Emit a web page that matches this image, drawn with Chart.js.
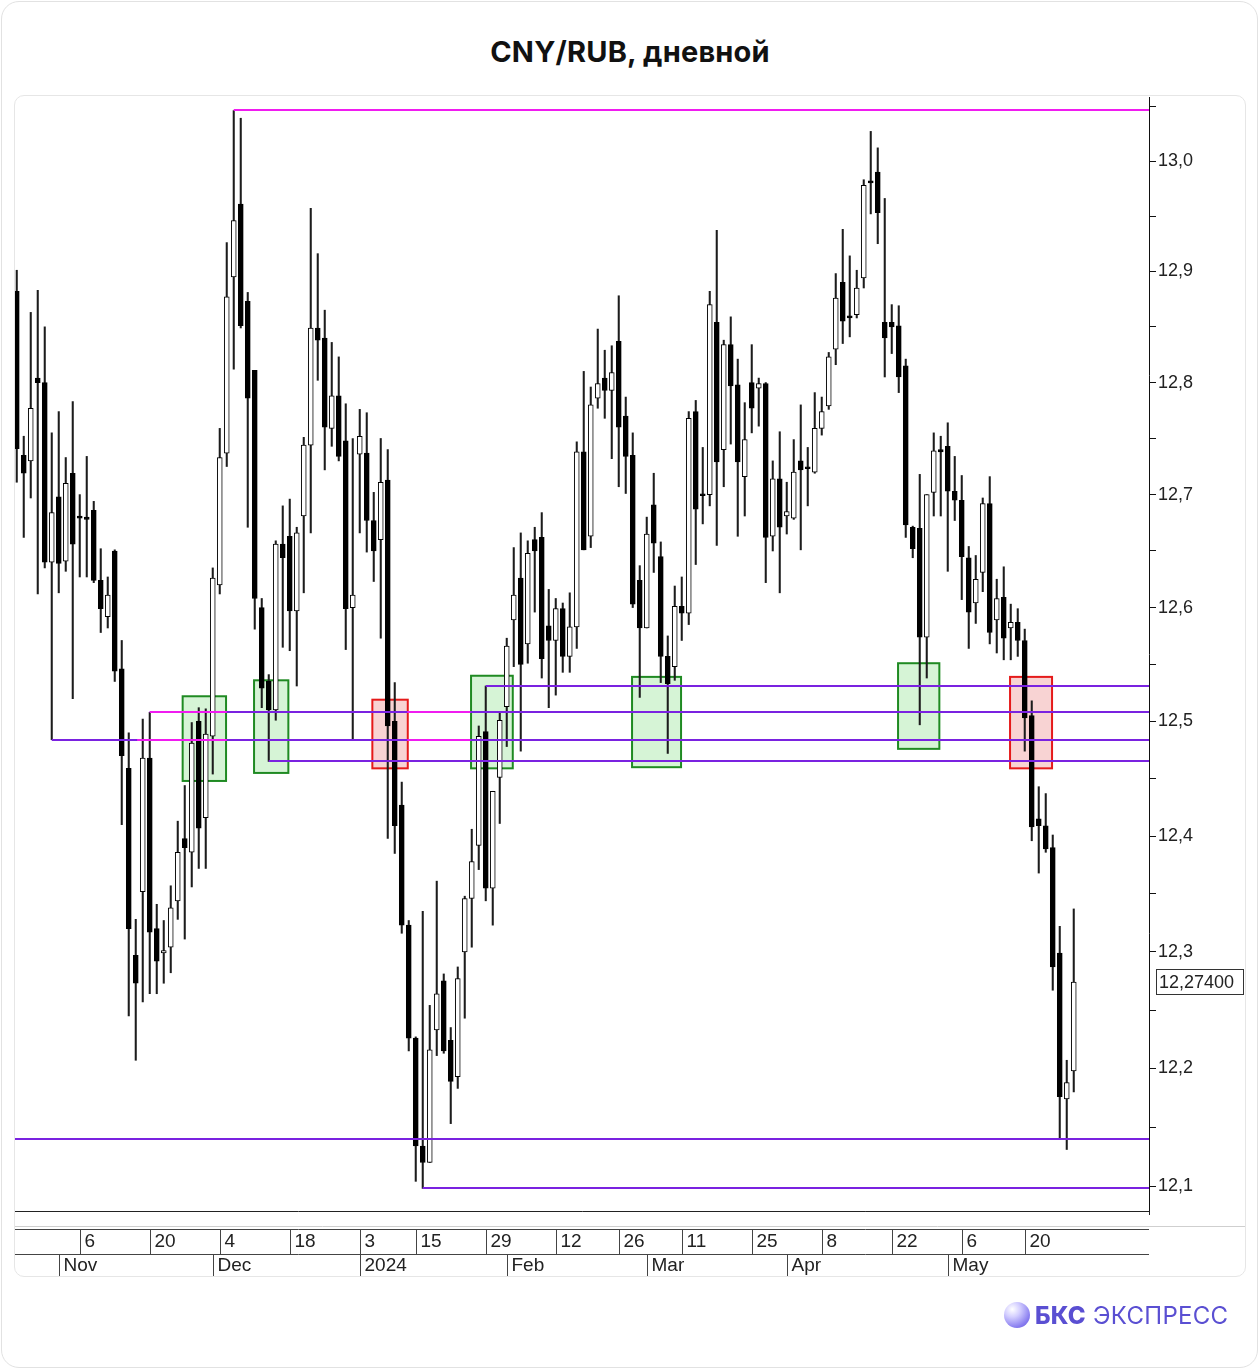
<!DOCTYPE html>
<html lang="ru">
<head>
<meta charset="utf-8">
<title>CNY/RUB, дневной</title>
<script src="https://cdn.jsdelivr.net/npm/chart.js@4.4.1/dist/chart.umd.min.js"></script>
<style>
  html, body { margin: 0; padding: 0; background: #fff; }
  body { width: 1260px; height: 1370px; position: relative; overflow: hidden; font-family: Inter, "Noto Sans", sans-serif; }
  .card { position: absolute; left: 1px; top: 1px; width: 1257px; height: 1367px; border: 1px solid #e2e2e2; border-radius: 18px; box-sizing: border-box; }
  .panel { position: absolute; left: 14px; top: 95px; width: 1232px; height: 1182px; border: 1px solid #e6e6e6; border-radius: 10px; box-sizing: border-box; }
  h1 { position: absolute; top: 32px; left: 0; width: 1260px; margin: 0; text-align: center; font-size: 29px; font-weight: 700; color: #111; line-height: 40px; letter-spacing: 0.2px; }
  .logo { position: absolute; left: 1004px; top: 1300px; height: 30px; display: flex; align-items: center; color: #5a4fd2; font-size: 24px; letter-spacing: 0.3px; }
  .logo .ball { width: 26px; height: 26px; border-radius: 50%; margin-right: 5px;
    background: radial-gradient(circle at 32% 28%, #ffffff 0%, #d4cfff 30%, #8a7ff0 70%, #5d50d8 100%); }
  .logo b { font-weight: 800; margin-right: 7px; }
  canvas { position: absolute; left: 0; top: 0; }
</style>
</head>
<body>
<div class="card"></div>
<div class="panel"></div>
<h1>CNY/RUB, дневной</h1>
<canvas id="chart" width="1260" height="1370"></canvas>
<div class="logo"><span class="ball"></span><b>БКС</b><span>ЭКСПРЕСС</span></div>

<script>
// daily candles, 24 Oct 2023 .. end of May 2024
const open = [
  12.882, 12.735, 12.730, 12.804, 12.800, 12.640, 12.698, 12.641, 12.719, 12.681,
  12.680, 12.686, 12.624, 12.592, 12.650, 12.546, 12.459, 12.297, 12.352, 12.468,
  12.320, 12.299, 12.304, 12.344, 12.398, 12.386, 12.500, 12.416, 12.487, 12.620,
  12.737, 12.895, 12.961, 12.873, 12.811, 12.600, 12.535, 12.510, 12.656, 12.663,
  12.597, 12.681, 12.744, 12.849, 12.840, 12.759, 12.788, 12.748, 12.600, 12.736,
  12.737, 12.677, 12.660, 12.713, 12.500, 12.427, 12.323, 12.226, 12.134, 12.120,
  12.233, 12.275, 12.224, 12.193, 12.300, 12.346, 12.392, 12.491, 12.355, 12.451,
  12.513, 12.589, 12.626, 12.568, 12.660, 12.662, 12.584, 12.571, 12.599, 12.557,
  12.583, 12.738, 12.663, 12.786, 12.804, 12.793, 12.837, 12.770, 12.735, 12.624,
  12.582, 12.691, 12.645, 12.557, 12.548, 12.601, 12.595, 12.774, 12.700, 12.700,
  12.854, 12.740, 12.834, 12.798, 12.716, 12.800, 12.795, 12.799, 12.663, 12.714,
  12.681, 12.679, 12.730, 12.724, 12.720, 12.759, 12.779, 12.830, 12.890, 12.860,
  12.861, 12.894, 12.982, 12.990, 12.854, 12.854, 12.851, 12.815, 12.671, 12.670,
  12.574, 12.702, 12.740, 12.743, 12.703, 12.695, 12.644, 12.604, 12.631, 12.692,
  12.589, 12.609, 12.582, 12.587, 12.571, 12.505, 12.415, 12.409, 12.390, 12.299,
  12.174, 12.198
];
const high = [
  12.901, 12.752, 12.863, 12.883, 12.850, 12.755, 12.774, 12.733, 12.783, 12.700,
  12.734, 12.694, 12.652, 12.627, 12.651, 12.571, 12.490, 12.328, 12.502, 12.508,
  12.341, 12.327, 12.357, 12.413, 12.444, 12.499, 12.512, 12.511, 12.635, 12.759,
  12.926, 13.046, 13.039, 12.881, 12.811, 12.608, 12.541, 12.659, 12.690, 12.696,
  12.671, 12.751, 12.957, 12.916, 12.865, 12.836, 12.823, 12.781, 12.750, 12.776,
  12.773, 12.702, 12.750, 12.740, 12.534, 12.447, 12.327, 12.227, 12.335, 12.254,
  12.361, 12.281, 12.235, 12.287, 12.348, 12.406, 12.496, 12.531, 12.439, 12.508,
  12.573, 12.653, 12.666, 12.659, 12.671, 12.684, 12.616, 12.608, 12.604, 12.613,
  12.747, 12.810, 12.796, 12.848, 12.829, 12.833, 12.878, 12.787, 12.755, 12.637,
  12.680, 12.719, 12.658, 12.575, 12.619, 12.627, 12.774, 12.784, 12.742, 12.882,
  12.937, 12.838, 12.859, 12.821, 12.782, 12.834, 12.804, 12.800, 12.730, 12.756,
  12.711, 12.749, 12.780, 12.742, 12.791, 12.787, 12.827, 12.898, 12.938, 12.914,
  12.901, 12.983, 13.027, 13.012, 12.966, 12.870, 12.869, 12.821, 12.672, 12.718,
  12.700, 12.755, 12.752, 12.764, 12.734, 12.717, 12.654, 12.646, 12.697, 12.716,
  12.625, 12.636, 12.603, 12.599, 12.581, 12.518, 12.443, 12.437, 12.401, 12.322,
  12.207, 12.337
];
const low = [
  12.711, 12.662, 12.697, 12.612, 12.635, 12.484, 12.613, 12.632, 12.520, 12.627,
  12.627, 12.622, 12.578, 12.582, 12.535, 12.410, 12.245, 12.207, 12.257, 12.264,
  12.264, 12.273, 12.282, 12.328, 12.311, 12.356, 12.372, 12.372, 12.454, 12.612,
  12.725, 12.812, 12.849, 12.671, 12.581, 12.512, 12.465, 12.501, 12.565, 12.562,
  12.531, 12.613, 12.666, 12.802, 12.722, 12.743, 12.730, 12.563, 12.484, 12.666,
  12.649, 12.623, 12.573, 12.398, 12.385, 12.316, 12.215, 12.104, 12.098, 12.120,
  12.211, 12.213, 12.153, 12.183, 12.243, 12.304, 12.371, 12.344, 12.323, 12.411,
  12.478, 12.548, 12.474, 12.551, 12.596, 12.538, 12.512, 12.523, 12.543, 12.543,
  12.564, 12.651, 12.653, 12.777, 12.768, 12.732, 12.707, 12.701, 12.600, 12.521,
  12.582, 12.631, 12.534, 12.472, 12.536, 12.571, 12.585, 12.638, 12.674, 12.690,
  12.655, 12.707, 12.745, 12.663, 12.681, 12.755, 12.761, 12.622, 12.650, 12.613,
  12.665, 12.678, 12.651, 12.690, 12.719, 12.753, 12.776, 12.816, 12.835, 12.841,
  12.858, 12.885, 12.952, 12.925, 12.805, 12.826, 12.791, 12.662, 12.644, 12.497,
  12.538, 12.681, 12.681, 12.632, 12.677, 12.607, 12.564, 12.586, 12.614, 12.568,
  12.560, 12.554, 12.554, 12.557, 12.474, 12.396, 12.368, 12.386, 12.267, 12.141,
  12.131, 12.180
];
const close = [
  12.741, 12.719, 12.777, 12.800, 12.640, 12.684, 12.639, 12.710, 12.656, 12.679,
  12.678, 12.624, 12.599, 12.611, 12.544, 12.470, 12.320, 12.273, 12.468, 12.317,
  12.292, 12.301, 12.338, 12.386, 12.390, 12.481, 12.407, 12.489, 12.626, 12.733,
  12.877, 12.946, 12.851, 12.786, 12.608, 12.529, 12.510, 12.656, 12.644, 12.597,
  12.666, 12.744, 12.849, 12.838, 12.760, 12.788, 12.734, 12.599, 12.611, 12.752,
  12.677, 12.650, 12.711, 12.496, 12.409, 12.323, 12.226, 12.134, 12.120, 12.216,
  12.264, 12.215, 12.189, 12.277, 12.346, 12.378, 12.487, 12.355, 12.439, 12.501,
  12.566, 12.611, 12.550, 12.648, 12.650, 12.555, 12.571, 12.599, 12.557, 12.583,
  12.738, 12.651, 12.780, 12.799, 12.793, 12.809, 12.760, 12.734, 12.603, 12.582,
  12.665, 12.657, 12.557, 12.533, 12.601, 12.595, 12.768, 12.687, 12.699, 12.870,
  12.729, 12.834, 12.797, 12.729, 12.749, 12.777, 12.799, 12.662, 12.714, 12.671,
  12.685, 12.720, 12.722, 12.723, 12.759, 12.774, 12.823, 12.876, 12.855, 12.858,
  12.885, 12.978, 12.980, 12.953, 12.840, 12.850, 12.805, 12.673, 12.652, 12.574,
  12.700, 12.739, 12.738, 12.703, 12.695, 12.645, 12.596, 12.625, 12.692, 12.578,
  12.608, 12.573, 12.587, 12.571, 12.503, 12.408, 12.409, 12.389, 12.287, 12.176,
  12.188, 12.274
];

// bottom axis: candle index where each label sits
const dayTicks = [[9, '6'], [19, '20'], [29, '4'], [39, '18'], [49, '3'], [57, '15'], [67, '29'],
  [77, '12'], [86, '26'], [95, '11'], [105, '25'], [115, '8'], [125, '22'], [135, '6'], [144, '20']];
const monthTicks = [[6, 'Nov'], [28, 'Dec'], [49, '2024'], [70, 'Feb'], [90, 'Mar'], [110, 'Apr'], [133, 'May']];
const priceTicks = [12.1, 12.15, 12.2, 12.25, 12.3, 12.35, 12.4, 12.45, 12.5, 12.55,
  12.6, 12.65, 12.7, 12.75, 12.8, 12.85, 12.9, 12.95, 13.0, 13.05];

// horizontal levels: price, first candle index, colour key
const levels = [[13.0465, 31, 'm'], [12.140, -0.25, 'p'], [12.098, 58, 'p'], [12.484, 5, 'p'],
  [12.508, 19, 'p'], [12.465, 36, 'p'], [12.531, 67, 'p']];
// pink pieces drawn on top of the levels: price, from index, to index
const accents = [[12.508, 19, 30], [12.484, 17.2, 30], [12.508, 55.8, 64.8], [12.484, 55.8, 64.8]];
// boxes: from index, to index, low, high, kind
const zones = [
  [23.7, 29.9, 12.448, 12.522, 'buy'],
  [33.9, 38.8, 12.455, 12.536, 'buy'],
  [50.8, 55.86, 12.459, 12.519, 'sell'],
  [64.9, 70.86, 12.459, 12.540, 'buy'],
  [87.9, 94.9, 12.460, 12.539, 'buy'],
  [125.9, 131.8, 12.476, 12.551, 'buy'],
  [141.9, 147.9, 12.459, 12.539, 'sell']
];

const PURPLE = '#7a22e0';
const PINK = '#f01cf0';

const wicks = close.map((c, i) => ({ x: i, y: [low[i], high[i]] }));
const bodies = close.map((c, i) => ({ x: i, y: [open[i], close[i]] }));
const bodyColors = close.map((c, i) => (c >= open[i] ? '#ffffff' : '#000000'));

const fmt = v => v.toFixed(1).replace('.', ',');

const overlay = {
  id: 'overlay',
  beforeDatasetsDraw(chart) {
    const { ctx, chartArea: a, scales: { x, y } } = chart;
    ctx.save();
    ctx.beginPath();
    ctx.rect(a.left, a.top, a.right - a.left, a.bottom - a.top);
    ctx.clip();
    zones.forEach(([i0, i1, lo, hi, kind]) => {
      const l = x.getPixelForValue(i0), r = x.getPixelForValue(i1);
      const t = y.getPixelForValue(hi), b = y.getPixelForValue(lo);
      ctx.fillStyle = kind === 'buy' ? 'rgba(120,220,120,0.3)' : 'rgba(232,110,110,0.3)';
      ctx.fillRect(l, t, r - l, b - t);
      ctx.lineWidth = 2;
      ctx.strokeStyle = kind === 'buy' ? '#1f8a22' : '#e51a1a';
      ctx.strokeRect(l, t, r - l, b - t);
    });
    ctx.restore();
  },
  afterDatasetsDraw(chart) {
    const { ctx, chartArea: a, scales: { x, y } } = chart;
    ctx.save();
    ctx.beginPath();
    ctx.rect(a.left, a.top, a.right - a.left, a.bottom - a.top);
    ctx.clip();
    ctx.lineWidth = 2;
    levels.forEach(([p, from, c]) => {
      const py = Math.round(y.getPixelForValue(p));
      ctx.strokeStyle = c === 'm' ? PINK : PURPLE;
      ctx.beginPath();
      ctx.moveTo(x.getPixelForValue(from), py);
      ctx.lineTo(a.right, py);
      ctx.stroke();
    });
    ctx.strokeStyle = PINK;
    accents.forEach(([p, from, to]) => {
      const py = Math.round(y.getPixelForValue(p));
      ctx.beginPath();
      ctx.moveTo(x.getPixelForValue(from), py);
      ctx.lineTo(x.getPixelForValue(to), py);
      ctx.stroke();
    });
    ctx.restore();
  },
  afterDraw(chart) {
    const { ctx, chartArea: a, scales: { x, y } } = chart;
    const rowTop = a.bottom + 18, rowMid = rowTop + 25, rowBot = rowMid + 22;
    ctx.save();
    ctx.lineWidth = 1;
    // frame under the plot
    ctx.strokeStyle = '#222';
    ctx.beginPath();
    ctx.moveTo(a.left, a.bottom + 0.5); ctx.lineTo(a.right + 0.5, a.bottom + 0.5);
    ctx.lineTo(a.right + 0.5, a.bottom + 4);
    ctx.stroke();
    ctx.strokeStyle = '#cfcfcf';
    ctx.beginPath();
    ctx.moveTo(a.left, rowTop - 2.5); ctx.lineTo(1245, rowTop - 2.5);
    ctx.stroke();
    ctx.strokeStyle = '#444';
    ctx.beginPath();
    ctx.moveTo(a.left, rowTop + 0.5); ctx.lineTo(a.right, rowTop + 0.5);
    ctx.moveTo(a.left, rowMid + 0.5); ctx.lineTo(a.right, rowMid + 0.5);
    ctx.stroke();

    ctx.fillStyle = '#222';
    ctx.font = '19px "Liberation Sans", Arial, sans-serif';
    ctx.textBaseline = 'middle';
    ctx.textAlign = 'left';
    dayTicks.forEach(([i, t]) => {
      const px = Math.round(x.getPixelForValue(i)) + 0.5;
      ctx.beginPath(); ctx.moveTo(px, rowTop); ctx.lineTo(px, rowMid); ctx.stroke();
      ctx.fillText(t, px + 4, rowTop + 13);
    });
    monthTicks.forEach(([i, t]) => {
      const px = Math.round(x.getPixelForValue(i)) + 0.5;
      ctx.beginPath(); ctx.moveTo(px, rowMid); ctx.lineTo(px, rowBot); ctx.stroke();
      ctx.fillText(t, px + 4, rowMid + 12);
    });

    // last price box
    const last = close[close.length - 1];
    const ly = Math.round(y.getPixelForValue(last));
    ctx.fillStyle = '#fff';
    ctx.fillRect(1156.5, ly - 12.5, 87, 25);
    ctx.strokeStyle = '#333';
    ctx.strokeRect(1156.5, ly - 12.5, 87, 25);
    ctx.fillStyle = '#222';
    ctx.font = '18px "Liberation Sans", Arial, sans-serif';
    ctx.fillText(last.toFixed(5).replace('.', ','), 1159, ly + 1);
    ctx.restore();
  }
};

new Chart(document.getElementById('chart'), {
  type: 'bar',
  data: {
    datasets: [
      { data: wicks, backgroundColor: '#1c1c1c', borderWidth: 0, barThickness: 1.4, grouped: false, order: 2 },
      { data: bodies, backgroundColor: bodyColors, borderColor: '#000', borderWidth: 1, borderSkipped: false,
        barThickness: 5, minBarLength: 2, grouped: false, order: 1 }
    ]
  },
  options: {
    responsive: false,
    animation: false,
    events: [],
    layout: { padding: { left: 15, top: 97, right: 15, bottom: 159 } },
    plugins: { legend: { display: false }, tooltip: { enabled: false } },
    scales: {
      x: { type: 'linear', display: false, offset: false, grid: { offset: false }, min: -0.25, max: 161.75 },
      y: {
        type: 'logarithmic',
        position: 'right',
        min: 12.0789,
        max: 13.0584,
        afterBuildTicks: s => { s.ticks = priceTicks.map(v => ({ value: v })); },
        afterFit: s => { s.width = 96; },
        border: { display: true, color: '#111', width: 1 },
        grid: { drawOnChartArea: false, drawTicks: true, tickLength: 7, color: '#111' },
        ticks: {
          padding: 2,
          color: '#222',
          font: { family: 'Liberation Sans', size: 18 },
          callback: v => (Math.abs(v * 10 - Math.round(v * 10)) < 1e-6 ? fmt(v) : '')
        }
      }
    }
  },
  plugins: [overlay]
});
</script>
</body>
</html>
